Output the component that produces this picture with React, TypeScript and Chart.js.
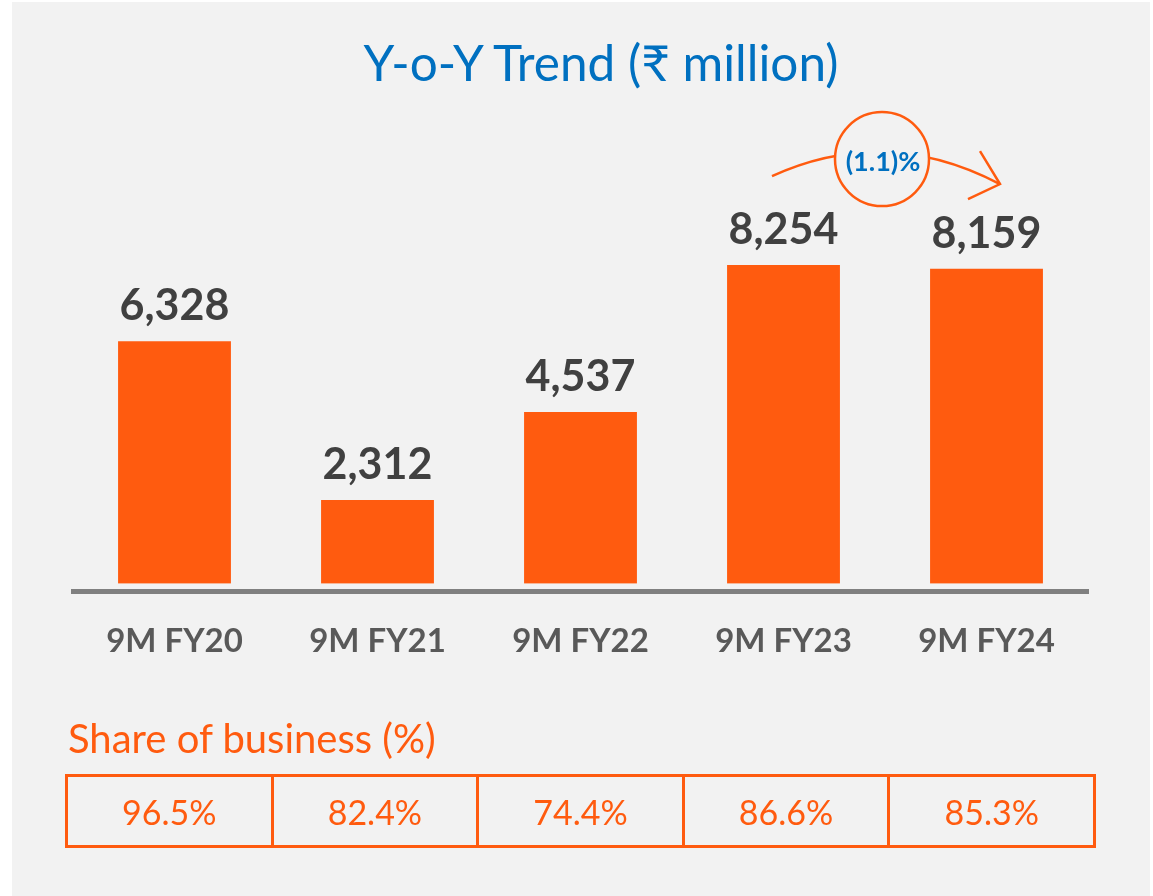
import React, { useEffect, useRef } from "react";
import { Chart, registerables } from "chart.js";

Chart.register(...registerables);

const categories = ["9M FY20", "9M FY21", "9M FY22", "9M FY23", "9M FY24"];
const values = [6328, 2312, 4537, 8254, 8159];
const valueLabels = ["6,328", "2,312", "4,537", "8,254", "8,159"];
const shareOfBusiness = ["96.5%", "82.4%", "74.4%", "86.6%", "85.3%"];
const yoyChangeLabel = "(1.1)%";
const titleText = "Y-o-Y Trend (₹ million)";
const tableTitle = "Share of business (%)";

const FONT = "Lato, 'Noto Sans', sans-serif";
const BG = "#f2f2f2";
const ORANGE = "#ff5b0f";
const BLUE = "#0070c0";

const overlayPlugin = {
  id: "overlay",
  afterDatasetsDraw(chart: any) {
    const ctx = chart.ctx as CanvasRenderingContext2D;
    const area = chart.chartArea;
    const meta = chart.getDatasetMeta(0);
    ctx.save();
    // small gap between bar bottoms and axis line
    ctx.fillStyle = BG;
    ctx.fillRect(area.left, area.bottom - 8, area.right - area.left, 8);

    // value labels
    ctx.fillStyle = "#404040";
    ctx.font = `bold 43px ${FONT}`;
    ctx.textAlign = "center";
    ctx.textBaseline = "alphabetic";
    meta.data.forEach((bar: any, i: number) => {
      ctx.fillText(valueLabels[i], bar.x, bar.y - 21);
    });

    // YoY annotation between last two bars
    const b3 = meta.data[3];
    const b4 = meta.data[4];
    const cx = (b3.x + b4.x) / 2 - 3;
    const cy = b3.y - 106;
    ctx.strokeStyle = ORANGE;
    ctx.lineWidth = 2.5;
    ctx.beginPath();
    ctx.moveTo(cx - 110, cy + 17);
    ctx.quadraticCurveTo(cx + 4, cy - 35, cx + 118, cy + 25);
    ctx.stroke();
    ctx.beginPath();
    ctx.moveTo(cx + 98, cy - 8);
    ctx.lineTo(cx + 118, cy + 25);
    ctx.lineTo(cx + 86, cy + 40);
    ctx.stroke();
    ctx.beginPath();
    ctx.arc(cx, cy, 47, 0, Math.PI * 2);
    ctx.fillStyle = BG;
    ctx.fill();
    ctx.stroke();
    ctx.fillStyle = BLUE;
    ctx.font = `bold 27px ${FONT}`;
    ctx.textBaseline = "middle";
    ctx.fillText(yoyChangeLabel, cx + 1, cy + 3);
    ctx.restore();
  },
};

export default function App() {
  const canvasRef = useRef<HTMLCanvasElement | null>(null);

  useEffect(() => {
    const canvas = canvasRef.current;
    if (!canvas) return;
    const chart = new Chart(canvas, {
      type: "bar",
      data: {
        labels: categories,
        datasets: [
          {
            data: values,
            backgroundColor: ORANGE,
            borderWidth: 0,
            barPercentage: 0.556,
            categoryPercentage: 1,
          },
        ],
      },
      options: {
        responsive: false,
        animation: false,
        layout: { padding: { left: 73, right: 65, top: 196, bottom: 205 } },
        plugins: {
          legend: { display: false },
          tooltip: { enabled: false },
          title: { display: false },
        },
        scales: {
          x: {
            grid: { display: false, drawTicks: false },
            border: { display: true, color: "#808080", width: 5, z: 1 },
            ticks: {
              color: "#595959",
              font: { family: FONT, size: 33, weight: "bold" },
              padding: 30,
            },
          },
          y: {
            display: false,
            min: 0,
            max: 10000,
          },
        },
      },
      plugins: [overlayPlugin],
    });
    return () => chart.destroy();
  }, []);

  return (
    <div style={{ position: "absolute", left: 0, top: 0, width: 1153, height: 896, background: "#ffffff", overflow: "hidden" }}>
      <div style={{ position: "absolute", left: 12, top: 2, width: 1138, height: 894, background: BG }} />
      <div
        style={{
          position: "absolute",
          left: 0,
          width: 1202,
          top: 27,
          textAlign: "center",
          color: BLUE,
          fontFamily: FONT,
          fontSize: 49.5,
          lineHeight: "70px",
          whiteSpace: "nowrap",
        }}
      >
        {titleText}
      </div>
      <canvas ref={canvasRef} width={1153} height={896} style={{ position: "absolute", left: 0, top: 0 }} />
      <div
        style={{
          position: "absolute",
          left: 68,
          top: 713,
          color: ORANGE,
          fontFamily: FONT,
          fontSize: 40,
          lineHeight: "50px",
          whiteSpace: "nowrap",
        }}
      >
        {tableTitle}
      </div>
      <div
        style={{
          position: "absolute",
          left: 65,
          top: 774,
          width: 1031,
          height: 74,
          boxSizing: "border-box",
          border: `3px solid ${ORANGE}`,
          display: "flex",
        }}
      >
        {shareOfBusiness.map((s, i) => (
          <div
            key={i}
            style={{
              flex: 1,
              borderLeft: i === 0 ? "none" : `3px solid ${ORANGE}`,
              color: ORANGE,
              fontFamily: FONT,
              fontSize: 34,
              display: "flex",
              alignItems: "center",
              justifyContent: "center",
            }}
          >
            {s}
          </div>
        ))}
      </div>
    </div>
  );
}
